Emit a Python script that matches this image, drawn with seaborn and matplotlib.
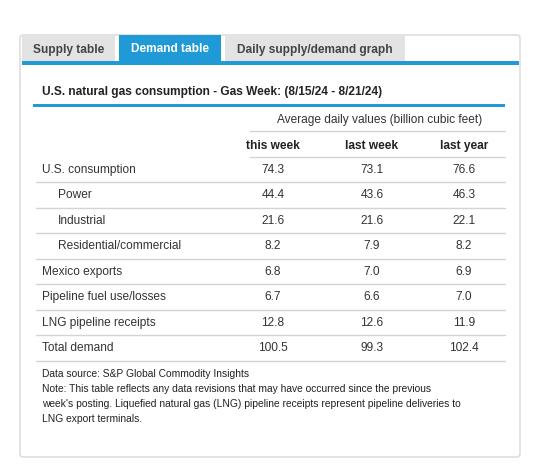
import matplotlib.pyplot as plt
from matplotlib.patches import Rectangle, FancyBboxPatch
import seaborn as sns

sns.set_theme(style="white")
plt.rcParams["font.family"] = ["Liberation Sans", "DejaVu Sans"]

tabs = ["Supply table", "Demand table", "Daily supply/demand graph"]
title = "U.S. natural gas consumption - Gas Week: (8/15/24 - 8/21/24)"
subtitle = "Average daily values (billion cubic feet)"
columns = ["this week", "last week", "last year"]
row_labels = ["U.S. consumption", "Power", "Industrial", "Residential/commercial",
              "Mexico exports", "Pipeline fuel use/losses", "LNG pipeline receipts",
              "Total demand"]
indented = [False, True, True, True, False, False, False, False]
this_week = [74.3, 44.4, 21.6, 8.2, 6.8, 6.7, 12.8, 100.5]
last_week = [73.1, 43.6, 21.6, 7.9, 7.0, 6.6, 12.6, 99.3]
last_year = [76.6, 46.3, 22.1, 8.2, 6.9, 7.0, 11.9, 102.4]
notes = [
    "Data source: S&P Global Commodity Insights",
    "Note: This table reflects any data revisions that may have occurred since the previous",
    "week's posting. Liquefied natural gas (LNG) pipeline receipts represent pipeline deliveries to",
    "LNG export terminals.",
]

BLUE = "#1f9ad6"
GREY_TAB = "#e3e3e3"
LINE = "#d4d4d4"
TXT = "#333333"
FS = 8.6

fig = plt.figure(figsize=(5.54, 4.77), dpi=100)
ax = fig.add_axes([0, 0, 1, 1])
ax.set_xlim(0, 554)
ax.set_ylim(477, 0)
ax.axis("off")

# panel
ax.add_patch(FancyBboxPatch((20, 36), 500, 422, boxstyle="round,pad=0,rounding_size=3",
                            fc="white", ec="#d8d8d8", lw=1))

# tabs
tab_x = [(22, 115), (119, 221), (225, 405)]
for (x0, x1), name in zip(tab_x, tabs):
    active = name == "Demand table"
    ax.add_patch(Rectangle((x0, 36), x1 - x0, 27, fc=BLUE if active else GREY_TAB,
                           ec="none"))
    ax.text((x0 + x1) / 2, 49.5, name, ha="center", va="center", fontsize=FS,
            fontweight="bold", color="white" if active else "#444444")
ax.add_patch(Rectangle((22, 62), 497, 4, fc=BLUE, ec="none"))

# title
ax.text(42, 92, title, ha="left", va="center", fontsize=FS, fontweight="bold", color="#222222")
ax.add_patch(Rectangle((33, 105), 472, 3, fc=BLUE, ec="none"))

col_x = [273, 372, 464]
ax.text(380, 120, subtitle, ha="center", va="center", fontsize=FS, color=TXT)
ax.plot([250, 505], [132, 132], color=LINE, lw=1)
for cx, c in zip(col_x, columns):
    ax.text(cx, 146, c, ha="center", va="center", fontsize=FS, fontweight="bold", color="#222222")
ax.plot([250, 505], [157.5, 157.5], color=LINE, lw=1)

y0, dy = 170, 25.5
for i, lab in enumerate(row_labels):
    y = y0 + i * dy
    ax.text(58 if indented[i] else 42, y, lab, ha="left", va="center", fontsize=FS, color=TXT)
    for cx, v in zip(col_x, (this_week[i], last_week[i], last_year[i])):
        ax.text(cx, y, f"{v:.1f}", ha="center", va="center", fontsize=FS, color=TXT)
    nxt_indent = i + 1 < len(row_labels) and indented[i + 1]
    ax.plot([36, 505], [y + 13, y + 13], color=LINE, lw=1)

for j, n in enumerate(notes):
    ax.text(42, 374 + j * 15, n, ha="left", va="center", fontsize=7.4, color="#222222")

fig.savefig("out.png", dpi=100)
